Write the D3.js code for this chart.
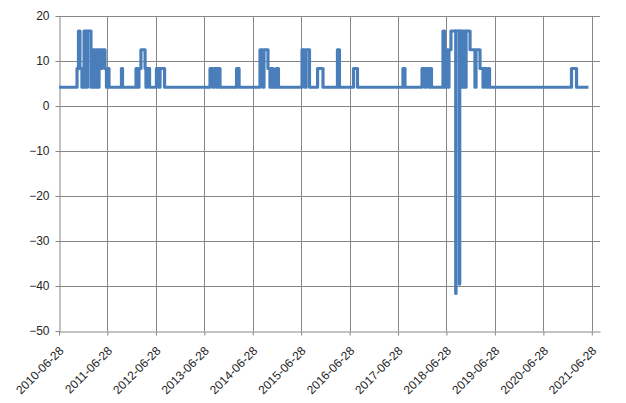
<!DOCTYPE html>
<html>
<head>
<meta charset="utf-8">
<script src="https://cdn.jsdelivr.net/npm/d3@7"></script>
<style>
  body { margin: 0; background: #fff; }
  text { font-family: "Liberation Sans", Arial, sans-serif; font-size: 12px; fill: #262626; }
</style>
</head>
<body>
<div id="chart"></div>
<script>
// step change points of the series: date where the value starts
var changeDates = [
  '2010-06-28','2010-11-11','2010-11-22','2010-12-03','2010-12-18','2011-01-03','2011-01-21','2011-01-29',
  '2011-02-24','2011-03-11','2011-03-27','2011-04-03','2011-04-18','2011-04-26','2011-05-11','2011-05-18',
  '2011-06-10','2011-06-21','2011-06-29','2011-07-10','2011-10-12','2011-10-20',
  '2012-01-30','2012-02-14','2012-02-21','2012-03-07','2012-04-07','2012-04-14','2012-04-22','2012-05-11',
  '2012-07-02','2012-07-21','2012-07-29','2012-09-01',
  '2013-08-10','2013-09-01','2013-09-09','2013-09-28','2013-10-05','2013-10-24',
  '2014-02-26','2014-03-17',
  '2014-08-22','2014-09-14','2014-09-21','2014-10-21','2014-11-05','2014-11-13','2014-11-28','2014-12-21','2015-01-08',
  '2015-07-05','2015-07-27','2015-08-04','2015-08-30',
  '2015-10-30','2015-12-10',
  '2016-03-28','2016-04-12',
  '2016-07-27','2016-08-26',
  '2017-08-04','2017-08-19',
  '2017-12-26','2018-01-17','2018-01-25','2018-02-16','2018-02-24','2018-03-07',
  '2018-06-02','2018-06-13','2018-06-21','2018-07-10','2018-07-17','2018-08-01','2018-09-06','2018-09-08',
  '2018-10-04','2018-10-06','2018-10-23','2018-10-31','2018-11-15','2018-11-23','2018-12-23','2019-01-29',
  '2019-02-06','2019-03-08','2019-03-31','2019-04-07','2019-04-26','2019-05-07','2019-05-19',
  '2021-01-26','2021-03-05','2021-06-03'
];
var changeValues = [
  4.17, 8.33, 16.67, 8.33, 4.17, 16.67, 4.17, 16.67,
  4.17, 12.5, 4.17, 12.5, 4.17, 12.5, 8.33, 12.5,
  8.33, 4.17, 8.33, 4.17, 8.33, 4.17,
  8.33, 4.17, 8.33, 12.5, 8.33, 4.17, 8.33, 4.17,
  8.33, 4.17, 8.33, 4.17,
  8.33, 4.17, 8.33, 4.17, 8.33, 4.17,
  8.33, 4.17,
  12.5, 4.17, 12.5, 8.33, 4.17, 8.33, 4.17, 8.33, 4.17,
  12.5, 4.17, 12.5, 4.17,
  8.33, 4.17,
  12.5, 4.17,
  8.33, 4.17,
  8.33, 4.17,
  8.33, 4.17, 8.33, 4.17, 8.33, 4.17,
  16.67, 4.17, 12.5, 4.17, 12.5, 16.67, -41.67, 16.67,
  -39.58, 16.67, 4.17, 16.67, 4.17, 16.67, 12.5, 4.17,
  12.5, 8.33, 4.17, 8.33, 4.17, 8.33, 4.17,
  8.33, 4.17, 4.17
];

var yTicks = [-50, -40, -30, -20, -10, 0, 10, 20];
var xTickLabels = ['2010-06-28','2011-06-28','2012-06-28','2013-06-28','2014-06-28','2015-06-28',
                   '2016-06-28','2017-06-28','2018-06-28','2019-06-28','2020-06-28','2021-06-28'];

(function() {
  var W = 626, H = 403;
  var margin = {top: 16, right: 26, bottom: 72, left: 59},
      width = W - margin.left - margin.right,
      height = H - margin.top - margin.bottom;

  var parseTime = d3.timeParse('%Y-%m-%d');

  var data = changeDates.map(function(d, i) {
    return {date: parseTime(d), value: changeValues[i]};
  });

  var x = d3.scaleTime()
      .domain([parseTime('2010-06-28'), parseTime('2021-08-29')])
      .range([0, width]);
  var y = d3.scaleLinear().domain([-50, 20]).range([height, 0]);

  var svg = d3.select('#chart').append('svg')
      .attr('width', W).attr('height', H)
      .append('g')
      .attr('transform', 'translate(' + margin.left + ',' + margin.top + ')');

  var gridColor = '#868686';
  var tickDates = xTickLabels.map(parseTime);

  // horizontal grid
  svg.append('g').selectAll('line').data(yTicks.filter(function(t) { return t > -50; }))
    .enter().append('line')
      .attr('x1', 0).attr('x2', width)
      .attr('y1', function(d) { return Math.round(y(d)) + 0.5; })
      .attr('y2', function(d) { return Math.round(y(d)) + 0.5; })
      .attr('stroke', gridColor);

  // vertical grid
  svg.append('g').selectAll('line').data(tickDates.slice(1))
    .enter().append('line')
      .attr('x1', function(d) { return Math.round(x(d)) + 0.5; })
      .attr('x2', function(d) { return Math.round(x(d)) + 0.5; })
      .attr('y1', 0).attr('y2', height)
      .attr('stroke', gridColor);

  // x axis
  var xAxis = svg.append('g')
      .attr('transform', 'translate(0,' + (Math.round(height) + 0.5) + ')')
      .call(d3.axisBottom(x).tickValues(tickDates).tickSize(4).tickSizeOuter(0)
        .tickFormat(d3.timeFormat('%Y-%m-%d')));
  xAxis.select('.domain').attr('stroke', gridColor);
  xAxis.selectAll('.tick line').attr('stroke', gridColor);
  xAxis.selectAll('.tick text')
      .attr('text-anchor', 'end')
      .attr('x', 0).attr('y', 0).attr('dy', '0.35em')
      .attr('transform', 'translate(2,17) rotate(-45)');

  // y axis
  var yAxis = svg.append('g')
      .attr('transform', 'translate(0.5,0)')
      .call(d3.axisLeft(y).tickValues(yTicks).tickSize(4).tickSizeOuter(0).tickPadding(6));
  yAxis.select('.domain').attr('stroke', gridColor);
  yAxis.selectAll('.tick line').attr('stroke', gridColor);

  // series
  var line = d3.line()
      .curve(d3.curveStepAfter)
      .x(function(d) { return x(d.date); })
      .y(function(d) { return y(d.value); });

  svg.append('path')
      .datum(data)
      .attr('fill', 'none')
      .attr('stroke', '#4A7EBB')
      .attr('stroke-width', 3.2)
      .attr('stroke-linejoin', 'round')
      .attr('d', line);
})();
</script>
</body>
</html>
